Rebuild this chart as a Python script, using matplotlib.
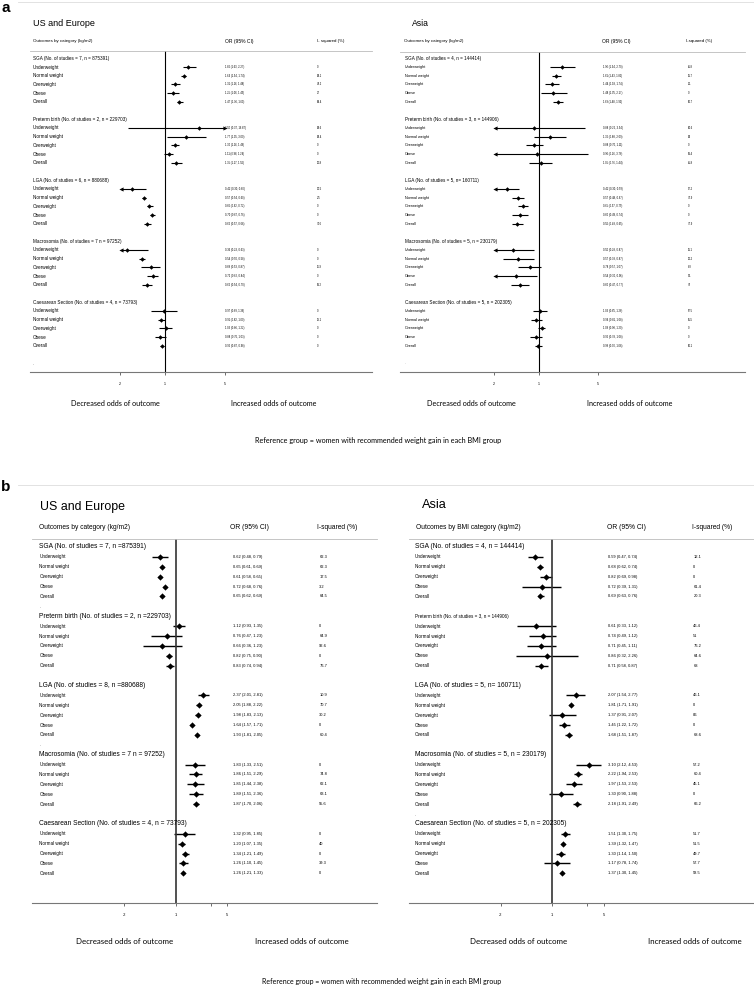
import matplotlib.pyplot as plt
import matplotlib.transforms as mtransforms
from matplotlib.lines import Line2D
import numpy as np

W, H = 754, 986
plt.rcParams['font.family'] = ['Liberation Sans', 'DejaVu Sans']

rows = ['Underweight', 'Normal weight', 'Overweight', 'Obese', 'Overall']

# ---- panel a, US and Europe
a_eu_groups = ['SGA (No. of studies = 7, n = 875391)',
               'Preterm birth (No. of studies = 2, n = 229703)',
               'LGA (No. of studies = 6, n = 880688)',
               'Macrosomia (No. of studies = 7 n = 97252)',
               'Caesarean Section (No. of studies = 4, n = 73793)']
a_eu_or = [1.86, 1.64, 1.31, 1.25, 1.47, 2.50, 1.77, 1.30, 1.11, 1.35,
           0.42, 0.57, 0.66, 0.70, 0.62, 0.36, 0.54, 0.68, 0.72, 0.62,
           0.97, 0.91, 1.03, 0.88, 0.92]
a_eu_lo = [1.63, 1.54, 1.16, 1.06, 1.36, 0.37, 1.05, 1.16, 0.98, 1.17,
           0.30, 0.54, 0.62, 0.67, 0.57, 0.23, 0.50, 0.53, 0.62, 0.54,
           0.69, 0.82, 0.86, 0.76, 0.87]
a_eu_hi = [2.27, 1.74, 1.48, 1.45, 1.60, 16.87, 3.00, 1.46, 1.24, 1.56,
           0.60, 0.60, 0.72, 0.76, 0.68, 0.63, 0.58, 0.87, 0.84, 0.70,
           1.36, 1.00, 1.22, 1.03, 0.98]
a_eu_i2 = [0, 83.1, 45.2, 27, 88.4, 83.6, 83.4, 0, 0, 90.8,
           30.5, 2.5, 0, 0, 71.6, 0, 0, 16.9, 0, 59.2,
           0, 18.1, 0, 0, 0]

# ---- panel a, Asia
a_as_groups = ['SGA (No. of studies = 4, n = 144414)',
               'Preterm birth (No. of studies = 3, n = 144906)',
               'LGA (No. of studies = 5, n= 160711)',
               'Macrosomia (No. of studies = 5, n = 230179)',
               'Caesarean Section (No. of studies = 5, n = 202305)']
a_as_or = [1.90, 1.61, 1.44, 1.48, 1.69, 0.88, 1.36, 0.88, 0.96, 1.05,
           0.42, 0.57, 0.65, 0.60, 0.56, 0.50, 0.57, 0.78, 0.54, 0.60,
           1.03, 0.94, 1.08, 0.92, 0.98]
a_as_lo = [1.34, 1.43, 1.18, 1.05, 1.48, 0.22, 0.88, 0.70, 0.26, 0.76,
           0.30, 0.48, 0.57, 0.49, 0.48, 0.28, 0.38, 0.57, 0.30, 0.47,
           0.85, 0.81, 0.98, 0.78, 0.90]
a_as_hi = [2.70, 1.81, 1.74, 2.17, 1.92, 3.54, 2.09, 1.11, 3.76, 1.44,
           0.59, 0.67, 0.75, 0.74, 0.65, 0.87, 0.87, 1.07, 0.96, 0.77,
           1.26, 1.08, 1.20, 1.08, 1.08]
a_as_i2 = [65.8, 56.7, 1.1, 0, 60.7, 80.6, 82, 0, 59.4, 85.8,
           57.2, 72.9, 0, 0, 77.9, 56.1, 90.2, 8.3, 5.1, 79,
           67.5, 55.5, 0, 0, 60.1]

# ---- panel b, US and Europe
b_eu_groups = ['SGA (No. of studies = 7, n =875391)',
               'Preterm birth (No. of studies = 2, n =229703)',
               'LGA (No. of studies = 8, n =880688)',
               'Macrosomia (No. of studies = 7 n = 97252)',
               'Caesarean Section (No. of studies = 4, n = 73793)']
b_eu_or = [0.62, 0.65, 0.61, 0.72, 0.65, 1.12, 0.76, 0.66, 0.82, 0.83,
           2.37, 2.05, 1.98, 1.64, 1.93, 1.83, 1.86, 1.85, 1.89, 1.87,
           1.32, 1.20, 1.34, 1.26, 1.26]
b_eu_lo = [0.48, 0.61, 0.58, 0.68, 0.62, 0.93, 0.47, 0.36, 0.75, 0.74,
           2.01, 1.88, 1.83, 1.57, 1.81, 1.33, 1.51, 1.44, 1.51, 1.70,
           0.95, 1.07, 1.21, 1.10, 1.21]
b_eu_hi = [0.79, 0.69, 0.65, 0.76, 0.69, 1.35, 1.23, 1.23, 0.90, 0.94,
           2.81, 2.22, 2.13, 1.71, 2.05, 2.51, 2.29, 2.38, 2.36, 2.06,
           1.85, 1.35, 1.49, 1.45, 1.33]
b_eu_i2 = [62.3, 62.3, 17.5, 3.2, 64.5, 0, 64.9, 92.6, 0, 76.7,
           10.9, 70.7, 30.2, 0, 60.4, 0, 74.8, 62.1, 63.1, 55.6,
           0, 40, 0, 39.3, 0]

# ---- panel b, Asia
b_as_groups = ['SGA (No. of studies = 4, n = 144414)',
               'Preterm birth (No. of studies = 3, n = 144906)',
               'LGA (No. of studies = 5, n= 160711)',
               'Macrosomia (No. of studies = 5, n = 230179)',
               'Caesarean Section (No. of studies = 5, n = 202305)']
b_as_or = [0.59, 0.68, 0.82, 0.72, 0.69, 0.61, 0.74, 0.71, 0.86, 0.71,
           2.07, 1.81, 1.37, 1.45, 1.68, 3.10, 2.22, 1.97, 1.30, 2.18,
           1.51, 1.39, 1.30, 1.17, 1.37]
b_as_lo = [0.47, 0.62, 0.69, 0.39, 0.63, 0.33, 0.49, 0.45, 0.32, 0.58,
           1.54, 1.71, 0.91, 1.22, 1.51, 2.12, 1.94, 1.53, 0.90, 1.91,
           1.30, 1.32, 1.14, 0.78, 1.30]
b_as_hi = [0.74, 0.74, 0.98, 1.31, 0.76, 1.12, 1.12, 1.11, 2.26, 0.87,
           2.77, 1.91, 2.07, 1.72, 1.87, 4.53, 2.53, 2.53, 1.88, 2.49,
           1.75, 1.47, 1.50, 1.74, 1.45]
b_as_i2 = [12.1, 0, 0, 61.4, 20.3, 46.4, 51, 76.2, 64.6, 68,
           46.1, 0, 86, 0, 68.6, 57.2, 60.4, 45.1, 0, 66.2,
           51.7, 51.5, 49.7, 57.7, 58.5]

fig = plt.figure(figsize=(W / 100, H / 100), dpi=100)


def ft(px, py, s, **kw):
    kw.setdefault('va', 'center')
    fig.text(px / W, 1 - py / H, s, **kw)


def forest(box, one_px, k, y_first, step, groups, orv, lo, hi, i2, st):
    x0, y0, x1, y1 = box
    ax = fig.add_axes([x0 / W, 1 - y1 / H, (x1 - x0) / W, (y1 - y0) / H])
    ax.set_xscale('log')
    ax.set_xlim(np.exp((x0 - one_px) / k), np.exp((x1 - one_px) / k))
    ax.set_ylim((y1 - y_first) / step, (y0 - y_first) / step)
    tr = mtransforms.blended_transform_factory(ax.transAxes, ax.transData)

    def fx(px):
        return (px - x0) / (x1 - x0)

    lo_lim, hi_lim = st['clip']
    for g, name in enumerate(groups):
        ax.text(fx(st['x_lab']), 7 * g, name, fontsize=st['gfs'][g], va='center', transform=tr)
        for j, lab in enumerate(rows):
            i = 5 * g + j
            y = 7 * g + 1 + j
            ax.text(fx(st['x_lab']), y, lab, fontsize=st['rfs'], va='center', transform=tr)
            ax.text(fx(st['x_or']), y, '%.2f (%.2f, %.2f)' % (orv[i], lo[i], hi[i]),
                    fontsize=st['nfs'], va='center', transform=tr)
            ax.text(fx(st['x_i2']), y, '%g' % i2[i], fontsize=st['nfs'], va='center', transform=tr)
            a, b = max(lo[i], lo_lim), min(hi[i], hi_lim)
            ax.plot([a, b], [y, y], color='black', lw=st['lw'], solid_capstyle='butt')
            ax.plot(orv[i], y, marker='D', ms=st['ms'], color='black', mew=0)
            if lo[i] < lo_lim:
                ax.plot(lo_lim, y, marker='<', ms=st['ams'], color='black', mew=0)
            if hi[i] > hi_lim:
                ax.plot(hi_lim, y, marker='>', ms=st['ams'], color='black', mew=0)
    for d in st['dots']:
        ax.text(fx(st['x_lab']), d, '.', fontsize=st['rfs'], va='center', color='#666666', transform=tr)

    ax.axvline(1, color=st['vcol'], lw=st['vlw'])
    for s in ['left', 'right']:
        ax.spines[s].set_visible(False)
    ax.spines['top'].set_color('#bbbbbb')
    ax.spines['top'].set_linewidth(0.6)
    ax.spines['bottom'].set_color('#777777')
    ax.spines['bottom'].set_linewidth(0.8)
    ax.set_yticks([])
    ax.xaxis.set_minor_locator(plt.NullLocator())
    ax.set_xticks(st['ticks'])
    ax.set_xticklabels(st['tlabels'])
    ax.tick_params(axis='x', labelsize=st['tfs'], length=2.5, width=0.6,
                   color='#555555', pad=st['tpad'])
    ax.patch.set_alpha(0)
    return ax


st_a = dict(clip=(0.31, 5), gfs=[3.3] * 5, rfs=3.3, nfs=1.9, lw=0.8, ms=2.3, ams=3,
            vcol='black', vlw=0.8, ticks=[0.3, 1, 5], tlabels=['.2', '1', '5'],
            tfs=2.6, tpad=4.5)

# panel a
ft(6, 8, 'a', fontsize=11, fontweight='bold', ha='center')
fig.add_artist(Line2D([18 / W, 1], [1 - 1.5 / H] * 2, color='#dddddd', lw=0.6))
ft(33, 23, 'US and Europe', fontsize=6.5)
ft(33, 41, 'Outcomes by category (kg/m2)', fontsize=3.2)
ft(225, 41, 'OR (95% CI)', fontsize=3.6)
ft(316.7, 41, 'I- squared (%)', fontsize=3.2)
ft(80, 49, '.', fontsize=3, color='#666666')
forest((30, 51, 372, 372), 165, 37.5, 58.3, 8.71, a_eu_groups, a_eu_or, a_eu_lo,
       a_eu_hi, a_eu_i2, dict(st_a, x_lab=33, x_or=225, x_i2=317, dots=[35]))

ft(412, 23, 'Asia', fontsize=6.2)
ft(404, 41, 'Outcomes by category (kg/m2)', fontsize=3.2)
ft(601.7, 41, 'OR (95% CI)', fontsize=3.6)
ft(686, 41, 'I-squared (%)', fontsize=3.2)
forest((400, 51.7, 745, 372), 538.7, 37.0, 58.3, 8.71, a_as_groups, a_as_or, a_as_lo,
       a_as_hi, a_as_i2, dict(st_a, x_lab=405, x_or=602.7, x_i2=688, rfs=2.7, dots=[35]))

for cx, cy, s in [(115, 404, 'Decreased odds of outcome'), (274, 404, 'Increased odds of outcome'),
                  (471, 404, 'Decreased odds of outcome'), (630, 404, 'Increased odds of outcome')]:
    ft(cx, cy, s, fontsize=5.2, family='Lato', ha='center')
ft(378, 440.7, 'Reference group = women with recommended weight gain in each BMI group',
   fontsize=5.2, family='Lato', ha='center')

# panel b
st_b = dict(clip=(0.01, 100), rfs=3.3, nfs=2.9, lw=1.0, ms=3.2, ams=3,
            vcol='#333333', vlw=1.2, ticks=[0.2, 1, 3, 5], tlabels=['.2', '1', '', '5'],
            tfs=3.0, tpad=4.5)
ft(6, 487, 'b', fontsize=11, fontweight='bold', ha='center')
fig.add_artist(Line2D([18 / W, 1], [1 - 484.5 / H] * 2, color='#dddddd', lw=0.6))
ft(40, 506.7, 'US and Europe', fontsize=8.9)
ft(39.3, 527.7, 'Outcomes by category (kg/m2)', fontsize=4.8)
ft(230, 527.7, 'OR (95% CI)', fontsize=4.9)
ft(316.7, 527.7, 'I-squared (%)', fontsize=4.8)
forest((32, 539, 377, 903), 175.7, 32.1, 547, 9.89, b_eu_groups, b_eu_or, b_eu_lo,
       b_eu_hi, b_eu_i2, dict(st_b, x_lab=39.3, x_or=233.3, x_i2=319.3,
                              gfs=[4.8] * 5, dots=[6, 20]))

ft(421.7, 505, 'Asia', fontsize=9.2)
ft(415.7, 527.7, 'Outcomes by BMI category (kg/m2)', fontsize=4.8)
ft(607.3, 527.7, 'OR (95% CI)', fontsize=4.9)
ft(691.7, 527.7, 'I-squared (%)', fontsize=4.8)
forest((409, 539, 754, 903), 552.3, 32.0, 547, 9.89, b_as_groups, b_as_or, b_as_lo,
       b_as_hi, b_as_i2, dict(st_b, x_lab=414.7, x_or=608.3, x_i2=693.3,
                              gfs=[4.8, 3.3, 4.8, 4.8, 4.8], dots=[27]))

for cx, cy, s in [(125, 942, 'Decreased odds of outcome'), (301.7, 942, 'Increased odds of outcome'),
                  (519, 942, 'Decreased odds of outcome'), (695, 942, 'Increased odds of outcome')]:
    ft(cx, cy, s, fontsize=5.7, family='Lato', ha='center')
ft(382, 981.7, 'Reference group = women with recommended weight gain in each BMI group',
   fontsize=5.0, family='Lato', ha='center')

fig.savefig('out.png', dpi=100)
